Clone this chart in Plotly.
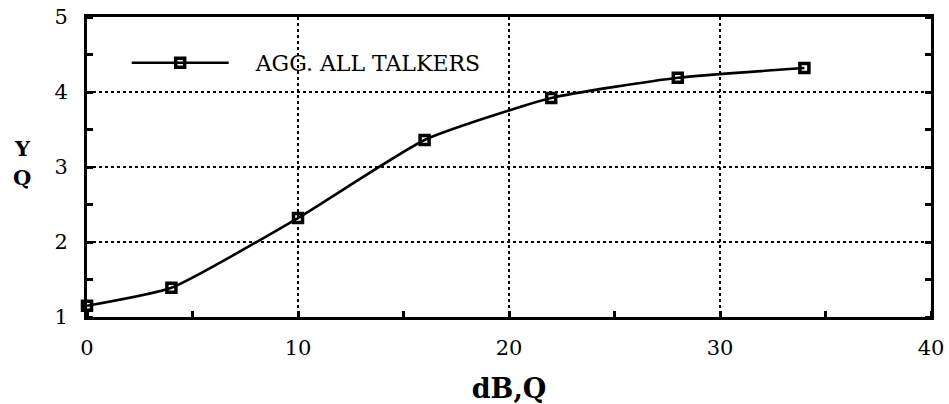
import plotly.graph_objects as go

snr_db = [0, 4, 10, 16, 22, 28, 34]
quality = [1.15, 1.39, 2.32, 3.36, 3.92, 4.19, 4.32]
series_name = "AGG. ALL TALKERS"
x_ticks = [0, 10, 20, 30, 40]
y_ticks = [1, 2, 3, 4, 5]

fig = go.Figure()
fig.add_trace(go.Scatter(
    x=snr_db, y=quality, mode="lines+markers", name="\u2003" + series_name,
    line=dict(color="black", width=2.6, shape="spline", smoothing=0.5),
    marker=dict(symbol="square-open", size=9, color="black", line=dict(width=3.5, color="black")),
    cliponaxis=False,
))

axis_common = dict(
    showline=True, linecolor="black", linewidth=3,
    showgrid=True, gridcolor="black", gridwidth=1.5, griddash="dot",
    zeroline=False, ticks="", automargin=False,
    tickfont=dict(family="DejaVu Serif", size=21, color="black"),
    minor=dict(ticks="inside", ticklen=6, tickwidth=2.5, tickcolor="black", showgrid=False),
)

fig.update_xaxes(range=[0, 40], tickvals=x_ticks, ticklabelstandoff=10, mirror=True, **axis_common)
fig.update_xaxes(minor_dtick=5,
                 title=dict(text="<b>dB,Q</b>", font=dict(family="DejaVu Serif", size=27, color="black"), standoff=20))
fig.update_yaxes(range=[1, 5], tickvals=y_ticks, ticklabelstandoff=12, mirror="ticks", **axis_common)
fig.update_yaxes(minor_dtick=0.5)

for txt, yy in (("Y", 0.563), ("Q", 0.466)):
    fig.add_annotation(text="<b>" + txt + "</b>", xref="paper", yref="paper", x=-0.077, y=yy,
                       xanchor="center", yanchor="middle", showarrow=False,
                       font=dict(family="DejaVu Serif", size=21, color="black"))

fig.update_layout(
    width=949, height=404,
    margin=dict(l=87, r=18, t=17, b=87),
    plot_bgcolor="white", paper_bgcolor="white",
    showlegend=True,
    legend=dict(x=0.047, y=0.847, xanchor="left", yanchor="middle",
                bgcolor="rgba(0,0,0,0)", font=dict(family="DejaVu Serif", size=22, color="black"),
                itemwidth=97),
)

fig.write_html("out.html", config={"displayModeBar": False},
               post_script="document.body.style.margin='0';")
